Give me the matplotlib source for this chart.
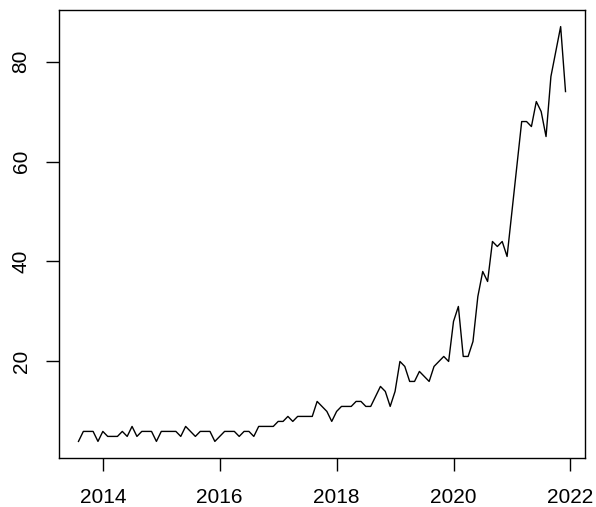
import numpy as np
import matplotlib
matplotlib.use("Agg")
import matplotlib.pyplot as plt

# Monthly series, starting August 2013
start_year = 2013
start_month = 8
values = [
    4, 6, 6, 6, 4,
    6, 5, 5, 5, 6, 5, 7, 5, 6, 6, 6, 4,
    6, 6, 6, 6, 5, 7, 6, 5, 6, 6, 6, 4,
    5, 6, 6, 6, 5, 6, 6, 5, 7, 7, 7, 7,
    8, 8, 9, 8, 9, 9, 9, 9, 12, 11, 10, 8,
    10, 11, 11, 11, 12, 12, 11, 11, 13, 15, 14, 11,
    14, 20, 19, 16, 16, 18, 17, 16, 19, 20, 21, 20,
    28, 31, 21, 21, 24, 33, 38, 36, 44, 43, 44, 41,
    50, 59, 68, 68, 67, 72, 70, 65, 77, 82, 87, 74,
]
x_ticks = [2014, 2016, 2018, 2020, 2022]
y_ticks = [20, 40, 60, 80]

times = start_year + (start_month - 1) / 12 + np.arange(len(values)) / 12
vals = np.array(values, dtype=float)

plt.rcParams["font.family"] = ["Liberation Sans", "DejaVu Sans"]

W, H, DPI = 596, 507, 100
fig = plt.figure(figsize=(W / DPI, H / DPI), dpi=DPI)
left, right, top, bottom = 59, 585, 10, 458
ax = fig.add_axes([left / W, 1 - bottom / H, (right - left) / W, (bottom - top) / H])

ax.plot(times, vals, color="black", linewidth=1.0)

# 4% padding on each side of the data range
def padded(lo, hi):
    d = (hi - lo) * 0.04
    return lo - d, hi + d

ax.set_xlim(*padded(times.min(), times.max()))
ax.set_ylim(*padded(vals.min(), vals.max()))

ax.set_xticks(x_ticks)
ax.set_xticklabels([str(t) for t in x_ticks])
ax.set_yticks(y_ticks)
ax.set_yticklabels([str(t) for t in y_ticks], rotation=90, va="center")

ax.tick_params(axis="both", direction="out", length=9.5, width=1.0,
               labelsize=15, colors="black")
ax.tick_params(axis="x", pad=12)
ax.tick_params(axis="y", pad=11)
for s in ax.spines.values():
    s.set_linewidth(1.0)
    s.set_color("black")

fig.savefig("out.png", dpi=DPI)
